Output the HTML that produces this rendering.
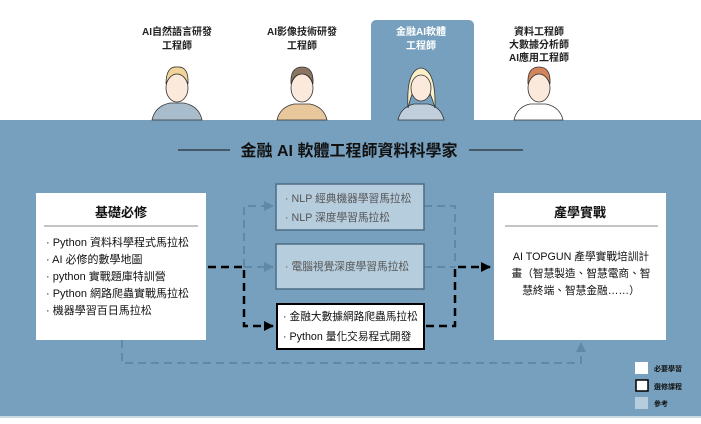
<!DOCTYPE html>
<html><head><meta charset="utf-8"><style>
body{margin:0;width:701px;height:419px;overflow:hidden;background:#fff;font-family:"Liberation Sans","Noto Sans CJK TC",sans-serif;}
</style></head><body>
<svg width="701" height="419" xmlns="http://www.w3.org/2000/svg" font-family="Liberation Sans, Noto Sans CJK TC, sans-serif">
<defs>
<marker id="ab" markerWidth="10" markerHeight="10" refX="9" refY="5" orient="auto" markerUnits="userSpaceOnUse"><path d="M0,0 L10,5 L0,10 Z" fill="#000"/></marker>
<marker id="ag" markerWidth="10" markerHeight="10" refX="9" refY="5" orient="auto" markerUnits="userSpaceOnUse"><path d="M0,0 L10,5 L0,10 Z" fill="#5f89a6"/></marker>
</defs>
<rect x="371" y="20" width="103" height="105" rx="5" fill="#76a0bd"/>
<rect x="0" y="120" width="701" height="297" fill="#76a0bd"/>
<line x1="0" y1="417" x2="701" y2="417" stroke="#c9d9e4" stroke-width="2"/>
<g font-size="10" font-weight="bold" text-anchor="middle" fill="#222">
<text x="177" y="35">AI自然語言研發</text><text x="177" y="49">工程師</text>
<text x="302" y="35">AI影像技術研發</text><text x="302" y="49">工程師</text>
<text x="421" y="35" fill="#fff">金融AI軟體</text><text x="421" y="49" fill="#fff">工程師</text>
<text x="539" y="35">資料工程師</text><text x="539" y="48">大數據分析師</text><text x="539" y="61">AI應用工程師</text>
</g>
<g stroke="#333" stroke-width="0.8">
<path d="M152 120 Q155 106 170 103 L184 103 Q199 106 202 120 Z" fill="#a9bccb"/>
<ellipse cx="177" cy="88" rx="11" ry="14" fill="#fbe9dc"/>
<path d="M166 84 Q166 66 177 67 Q189 66 188 84 Q184 74 177 74 Q170 74 166 84Z" fill="#f2d39a"/>
<path d="M277 120 Q280 107 294 104 L310 104 Q324 107 327 120 Z" fill="#e9c79c"/>
<ellipse cx="302" cy="88" rx="11" ry="14" fill="#fbe9dc"/>
<path d="M291 84 Q290 67 302 67 Q314 67 313 84 Q310 74 302 74 Q294 74 291 84Z" fill="#8a7660"/>
<path d="M398 120 Q401 107 414 104 L428 104 Q441 107 444 120 Z" fill="#c1cfdd"/>
<path d="M408 108 Q406 70 421 68 Q436 70 435 108 Q430 90 421 76 Q412 90 408 108Z" fill="#fbf0c8"/>
<ellipse cx="421" cy="88" rx="10" ry="13" fill="#fbe9dc"/>
<path d="M514 120 Q517 107 530 104 L546 104 Q560 107 563 120 Z" fill="#fff"/>
<ellipse cx="539" cy="88" rx="11" ry="14" fill="#fbe9dc"/>
<path d="M528 84 Q527 67 539 67 Q551 67 550 84 Q546 74 539 74 Q532 74 528 84Z" fill="#d2855a"/>
</g>
<line x1="178" y1="150" x2="230" y2="150" stroke="#111" stroke-width="1"/>
<line x1="469" y1="150" x2="523" y2="150" stroke="#111" stroke-width="1"/>
<text x="349" y="156" font-size="16" font-weight="bold" text-anchor="middle" fill="#111">金融 AI 軟體工程師資料科學家</text>
<g stroke="#5f89a6" stroke-width="2" stroke-dasharray="8,5" fill="none">
<path d="M244 267 V206 H273" marker-end="url(#ag)"/>
<path d="M244 267 H273" marker-end="url(#ag)"/>
<path d="M424 206 H455 V267"/>
<path d="M424 267 H455"/>
<path d="M122 340 V363 H581 V343" marker-end="url(#ag)"/>
</g>
<rect x="36" y="193" width="170" height="147" fill="#fff"/>
<line x1="44" y1="226" x2="198" y2="226" stroke="#888" stroke-width="1"/>
<text x="121" y="217" font-size="13" font-weight="bold" text-anchor="middle" fill="#111">基礎必修</text>
<g font-size="11" fill="#111">
<text x="46" y="246">· Python 資料科學程式馬拉松</text>
<text x="46" y="263">· AI 必修的數學地圖</text>
<text x="46" y="280">· python 實戰題庫特訓營</text>
<text x="46" y="297">· Python 網路爬蟲實戰馬拉松</text>
<text x="46" y="314">· 機器學習百日馬拉松</text>
</g>
<rect x="494" y="193" width="172" height="147" fill="#fff"/>
<line x1="505" y1="226" x2="658" y2="226" stroke="#888" stroke-width="1"/>
<text x="580" y="217" font-size="13" font-weight="bold" text-anchor="middle" fill="#111">產學實戰</text>
<g font-size="10.7" fill="#111" text-anchor="middle">
<text x="581" y="260">AI TOPGUN 產學實戰培訓計</text>
<text x="581" y="277">畫（智慧製造、智慧電商、智</text>
<text x="581" y="294">慧終端、智慧金融……）</text>
</g>
<rect x="276" y="184" width="148" height="46" fill="#b6cddd" stroke="#4d6d84" stroke-width="1.5"/>
<text x="285" y="202" font-size="10.7" fill="#555">· NLP 經典機器學習馬拉松</text>
<text x="285" y="221" font-size="10.7" fill="#555">· NLP 深度學習馬拉松</text>
<rect x="276" y="244" width="148" height="45" fill="#b6cddd" stroke="#4d6d84" stroke-width="1.5"/>
<text x="285" y="270" font-size="10.7" fill="#555">· 電腦視覺深度學習馬拉松</text>
<rect x="277" y="304" width="147" height="45" fill="#fff" stroke="#000" stroke-width="2"/>
<text x="283" y="320" font-size="10.7" fill="#111">· 金融大數據網路爬蟲馬拉松</text>
<text x="283" y="340" font-size="10.7" fill="#111">· Python 量化交易程式開發</text>
<g stroke="#000" stroke-width="2.5" stroke-dasharray="8,5" fill="none">
<path d="M208 267 H244 V326 H273" marker-end="url(#ab)"/>
<path d="M426 326 H455 V267 H490" marker-end="url(#ab)"/>
</g>
<rect x="635" y="362" width="13" height="12" fill="#fff"/>
<rect x="636" y="380" width="12" height="11" fill="#fff" stroke="#000" stroke-width="1.5"/>
<rect x="635" y="397" width="13" height="12" fill="#b6cddd"/>
<g font-size="7" font-weight="bold" fill="#111">
<text x="654" y="371">必要學習</text>
<text x="654" y="389">選修課程</text>
<text x="654" y="406">參考</text>
</g>
</svg>
</body></html>
